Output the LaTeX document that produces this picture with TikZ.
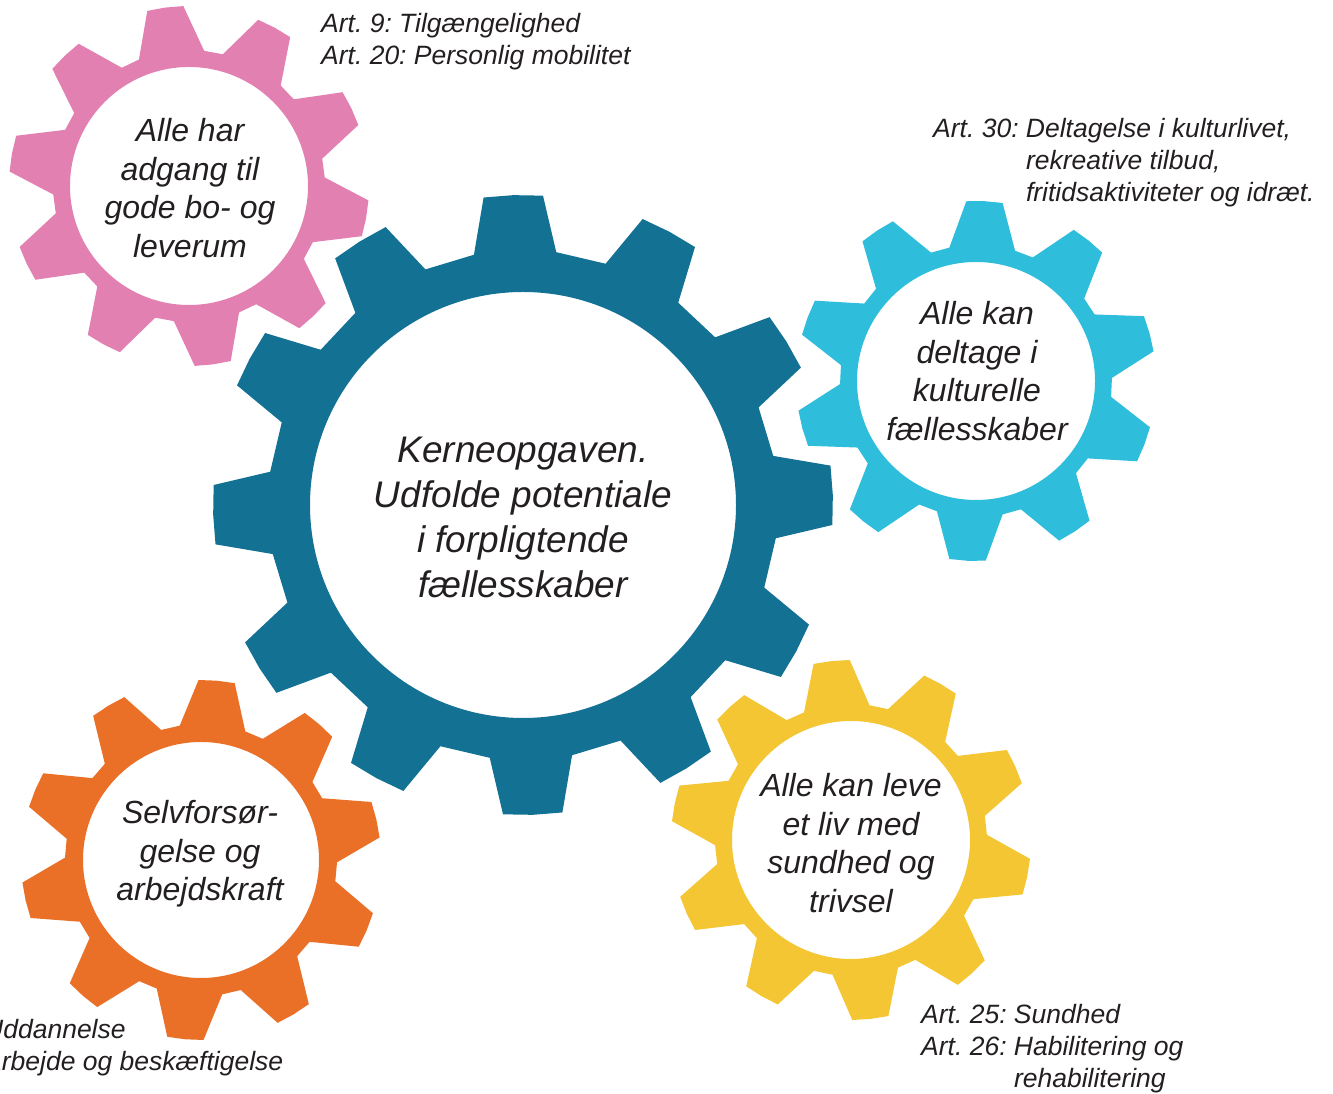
\documentclass[tikz,border=0pt]{standalone}
\usepackage{fontspec}
\setmainfont{Liberation Sans}
\frenchspacing

\definecolor{kernecol}{HTML}{137294}
\definecolor{bocol}{HTML}{E280B2}
\definecolor{kulturcol}{HTML}{2EBDDA}
\definecolor{arbejdecol}{HTML}{EA7028}
\definecolor{sundcol}{HTML}{F5C634}
\definecolor{inkcol}{HTML}{231F20}

% colour, centre, teeth, rotation, tip r, root r, hole r, tip half angle, base half angle
\newcommand{\drawgear}[9]{%
  \fill[#1,even odd rule,shift={#2}] ({#4+360/#3-#9}:#6)
    \foreach \i [evaluate=\i as \ang using #4+\i*360/#3] in {1,...,#3} {
      -- ({\ang-#9}:#6) -- ({\ang-#8}:#5) -- (\ang:#5) -- ({\ang+#8}:#5) -- ({\ang+#9}:#6)
    } -- cycle (0,0) circle[radius=#7];}

\tikzset{
  geartext/.style={font=\fontsize{32}{38.5}\selectfont\itshape, text=inkcol, align=center, inner sep=0pt},
  arttext/.style={font=\fontsize{26.5}{32}\selectfont\itshape, text=inkcol, align=left, inner sep=0pt, anchor=west}
}

\begin{document}
\begin{tikzpicture}[x=1pt,y=1pt]
    \useasboundingbox (0,0) rectangle (1333,1094);

    \drawgear{kernecol}{(523,589)}{12}{91.8}{310}{255}{213}{5.5}{9.3}
    \drawgear{bocol}{(189,908)}{10}{97.6}{180}{136}{119}{5.8}{14}
    \drawgear{kulturcol}{(976,713)}{10}{87.3}{180}{136}{119}{5.8}{14}
    \drawgear{arbejdecol}{(201,234)}{10}{85}{180}{136}{118}{5.8}{14}
    \drawgear{sundcol}{(851,254)}{10}{96.2}{180}{136}{119}{5.8}{14}

    \node[geartext, font=\fontsize{37}{45}\selectfont\itshape] (kerne) at (523,577)
        {Kerneopgaven.\\Udfolde potentiale\\i forpligtende\\fællesskaber};
    \node[geartext] (bolig) at (190,906) {Alle har\\adgang til\\gode bo- og\\leverum};
    \node[geartext] (kultur) at (977,723) {Alle kan\\deltage i\\kulturelle\\fællesskaber};
    \node[geartext] (arbejde) at (200,240) {Selvforsør-\\gelse og\\arbejdskraft};
    \node[geartext] (sundhed) at (851,251) {Alle kan leve\\et liv med\\sundhed og\\trivsel};

    \node[arttext] (art9) at (321,1052) {Art. 9: Tilgængelighed\\Art. 20: Personlig mobilitet};
    \node[arttext] (art30) at (933,931) {\begin{tabular}{@{}l@{ }l@{}}
        Art. 30: & Deltagelse i kulturlivet,\\
                 & rekreative tilbud,\\
                 & fritidsaktiviteter og idræt.\end{tabular}};
    \node[arttext] (art25) at (921,45) {\begin{tabular}{@{}l@{ }l@{}}
        Art. 25: & Sundhed\\
        Art. 26: & Habilitering og\\
                 & rehabilitering\end{tabular}};
    \node[arttext] (art24) at (-16,46) {Uddannelse\\Arbejde og beskæftigelse};
\end{tikzpicture}
\end{document}
